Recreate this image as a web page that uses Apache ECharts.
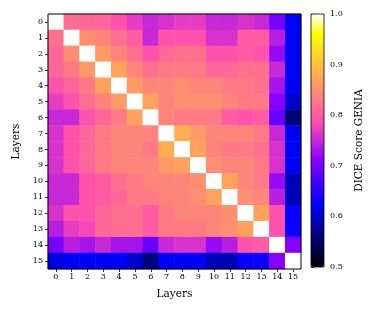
<!DOCTYPE html>
<html><head><meta charset="utf-8">
<script src="https://cdn.jsdelivr.net/npm/echarts@6/dist/echarts.min.js"></script>
<style>html,body{margin:0;padding:0;background:#fff}#c{width:375px;height:311px}</style>
</head><body><div id="c"></div>
<script>
const layers = ['0','1','2','3','4','5','6','7','8','9','10','11','12','13','14','15'];
const cbTicks = [0.5,0.6,0.7,0.8,0.9,1.0];
const row0  = [1.00,0.82,0.81,0.81,0.79,0.77,0.75,0.76,0.77,0.77,0.75,0.75,0.76,0.75,0.70,0.62];
const row1  = [0.82,1.00,0.85,0.84,0.82,0.80,0.75,0.79,0.79,0.79,0.76,0.76,0.80,0.80,0.74,0.62];
const row2  = [0.81,0.85,1.00,0.86,0.84,0.82,0.79,0.81,0.82,0.82,0.79,0.79,0.80,0.79,0.72,0.62];
const row3  = [0.81,0.83,0.86,1.00,0.87,0.84,0.82,0.83,0.83,0.83,0.81,0.81,0.82,0.82,0.75,0.62];
const row4  = [0.79,0.81,0.83,0.87,1.00,0.86,0.84,0.84,0.85,0.84,0.84,0.83,0.83,0.82,0.73,0.62];
const row5  = [0.77,0.79,0.82,0.84,0.86,1.00,0.87,0.84,0.85,0.85,0.85,0.84,0.83,0.83,0.71,0.60];
const row6  = [0.75,0.75,0.79,0.81,0.83,0.87,1.00,0.84,0.83,0.83,0.83,0.80,0.79,0.80,0.69,0.56];
const row7  = [0.76,0.79,0.81,0.83,0.84,0.84,0.84,1.00,0.88,0.86,0.84,0.84,0.84,0.83,0.75,0.62];
const row8  = [0.76,0.79,0.81,0.83,0.84,0.84,0.83,0.88,1.00,0.87,0.84,0.83,0.83,0.82,0.76,0.62];
const row9  = [0.76,0.79,0.81,0.83,0.84,0.84,0.84,0.86,0.87,1.00,0.85,0.84,0.84,0.83,0.76,0.62];
const row10 = [0.75,0.75,0.79,0.80,0.82,0.83,0.84,0.84,0.84,0.85,1.00,0.87,0.84,0.83,0.72,0.59];
const row11 = [0.75,0.75,0.79,0.80,0.81,0.83,0.83,0.84,0.84,0.85,0.87,1.00,0.85,0.84,0.74,0.59];
const row12 = [0.76,0.79,0.79,0.81,0.82,0.82,0.80,0.83,0.84,0.84,0.84,0.85,1.00,0.87,0.79,0.63];
const row13 = [0.74,0.77,0.78,0.81,0.82,0.82,0.80,0.83,0.83,0.83,0.84,0.85,0.87,1.00,0.79,0.63];
const row14 = [0.70,0.74,0.73,0.75,0.73,0.73,0.69,0.75,0.76,0.76,0.72,0.74,0.79,0.80,1.00,0.71];
const row15 = [0.61,0.62,0.62,0.62,0.62,0.60,0.56,0.62,0.62,0.62,0.59,0.59,0.63,0.63,0.71,1.00];
const rows = [row0,row1,row2,row3,row4,row5,row6,row7,row8,row9,row10,row11,row12,row13,row14,row15];

function clamp(v){return Math.max(0,Math.min(1,v));}
function gnuplot2(t){
  const r = clamp(t/0.32-0.78125);
  const g = clamp(2*t-0.84);
  let b;
  if(t<0.25) b=4*t; else if(t<0.42) b=1; else if(t<0.92) b=-2*t+1.84; else b=t/0.08-11.5;
  b = clamp(b);
  const h = x => Math.round(x*255).toString(16).padStart(2,'0');
  return '#'+h(r)+h(g)+h(b);
}
const cmap = [];
for(let i=0;i<=200;i++) cmap.push(gnuplot2(i/200));

const data = [];
rows.forEach((row,y)=>row.forEach((v,x)=>data.push([x,y,v])));

const font = 'DejaVu Serif';
const chart = echarts.init(document.getElementById('c'));
chart.setOption({
  animation:false,
  backgroundColor:'#fff',
  textStyle:{fontFamily:font},
  grid:[
    {left:48,top:14,width:253,height:255,show:true,borderColor:'#000',borderWidth:1,backgroundColor:'transparent',z:10},
    {left:311,top:14,width:13,height:253,show:true,borderColor:'#000',borderWidth:0.8,backgroundColor:'transparent',z:10}
  ],
  xAxis:[
    {type:'category',gridIndex:0,data:layers,position:'bottom',
     axisLine:{show:false},axisTick:{show:true,alignWithLabel:true,length:3,lineStyle:{color:'#000',width:0.8}},
     axisLabel:{fontFamily:font,fontSize:8,color:'#000',margin:4,interval:0},
     splitLine:{show:false},
     name:'Layers',nameLocation:'middle',nameGap:20,nameTextStyle:{fontFamily:font,fontSize:10.5,color:'#000'}},
    {type:'value',gridIndex:1,show:false,min:0,max:1}
  ],
  yAxis:[
    {type:'category',gridIndex:0,data:layers,inverse:true,
     axisLine:{show:false},axisTick:{show:true,alignWithLabel:true,length:3,lineStyle:{color:'#000',width:0.8}},
     axisLabel:{fontFamily:font,fontSize:8,color:'#000',margin:5,interval:0},
     splitLine:{show:false},
     name:'Layers',nameLocation:'middle',nameGap:26,nameRotate:90,nameTextStyle:{fontFamily:font,fontSize:10.5,color:'#000'}},
    {type:'value',gridIndex:1,min:0.5,max:1.0,interval:0.1,position:'right',
     axisLine:{show:false},axisTick:{show:true,length:3,lineStyle:{color:'#000',width:0.8}},
     axisLabel:{fontFamily:font,fontSize:8,color:'#000',margin:6,formatter:v=>v.toFixed(1)},
     splitLine:{show:false},
     name:'DICE Score GENIA',nameLocation:'middle',nameGap:30,nameRotate:90,nameTextStyle:{fontFamily:font,fontSize:10.5,color:'#000'}}
  ],
  visualMap:{
    type:'continuous',min:0.5,max:1.0,calculable:false,show:true,
    seriesIndex:0,orient:'vertical',left:311,top:14,itemWidth:13,itemHeight:253,
    padding:0,text:['',''],showLabel:false,hoverLink:false,
    inRange:{color:cmap}
  },
  series:[
    {type:'heatmap',xAxisIndex:0,yAxisIndex:0,data:data,itemStyle:{borderWidth:0},emphasis:{disabled:true}}
  ]
});
</script></body></html>
